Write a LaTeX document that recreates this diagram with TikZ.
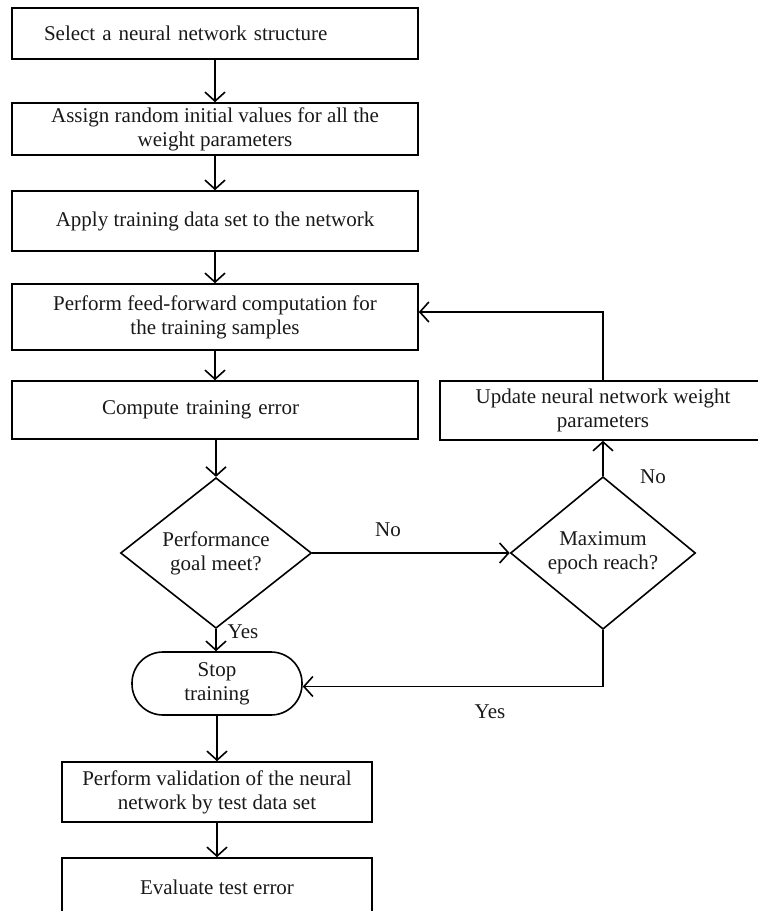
\documentclass[tikz,border=0pt]{standalone}
\usepackage{fontspec}
\setmainfont{Liberation Serif}
\usetikzlibrary{arrows.meta,shapes.geometric}
\begin{document}
\begin{tikzpicture}[x=1pt,y=-1pt,
  every node/.style={font=\fontsize{21}{24}\selectfont, text=black!90},
  proc/.style={draw=black, line width=1.6pt, rectangle, inner sep=0pt, align=center},
  dec/.style={draw=black, line width=1.6pt, diamond, inner sep=0pt, align=center},
  term/.style={draw=black, line width=1.6pt, rectangle, rounded corners=31pt, inner sep=0pt, align=center},
  flow/.style={draw=black, line width=1.6pt, -{Straight Barb[length=9pt,width=20pt,line width=1.6pt]}},
  lbl/.style={inner sep=0pt}
]
\useasboundingbox (0,0) rectangle (758,911);
\begin{scope}
\clip (0,0) rectangle (758,911);

% main column of steps
\node[proc, minimum width=406pt, minimum height=51pt, text width=342pt, align=left]
  (select) at (215,33.5) {Select a neural network structure};
\node[proc, minimum width=406pt, minimum height=52pt]
  (assign) at (215,129) {Assign random initial values for all the\\weight parameters};
\node[proc, minimum width=406pt, minimum height=60pt]
  (apply) at (215,221) {Apply training data set to the network};
\node[proc, minimum width=406pt, minimum height=66pt]
  (feed) at (215,317) {Perform feed-forward computation for\\the training samples};
\node[proc, minimum width=406pt, minimum height=58pt, text width=226pt, inner xsep=90pt, align=left]
  (compute) at (215,410) {Compute training error};

% decisions
\node[dec, minimum width=191pt, minimum height=133pt]
  (perf) at (216,553) {Performance\\goal meet?};
\node[dec, minimum width=185pt, minimum height=137pt]
  (maxep) at (603,553) {Maximum\\epoch reach?};

% weight update (runs past the right edge)
\node[proc, minimum width=326pt, minimum height=59pt]
  (update) at (603,410.5) {Update neural network weight\\parameters};

% end of training and testing
\node[term, minimum width=170pt, minimum height=63pt]
  (stop) at (217,683.5) {Stop\\training};
\node[proc, minimum width=310pt, minimum height=60pt]
  (valid) at (217,792) {Perform validation of the neural\\network by test data set};
\node[proc, minimum width=310pt, minimum height=58pt]
  (evalerr) at (217,887) {Evaluate test error};

% branch labels
\node[lbl] (no1) at (388,530) {No};
\node[lbl] (no2) at (653,477) {No};
\node[lbl] (yes1) at (243,632) {Yes};
\node[lbl] (yes2) at (490,712) {Yes};

% connectors
\draw[flow] (select.south) -- (select.south |- assign.north);
\draw[flow] (assign.south) -- (assign.south |- apply.north);
\draw[flow] (apply.south) -- (apply.south |- feed.north);
\draw[flow] (feed.south) -- (feed.south |- compute.north);
\draw[flow] (perf.north |- compute.south) -- (perf.north);
\draw[flow] (perf.east) -- (maxep.west);
\draw[flow] (maxep.north) -- (update.south);
\draw[flow] (update.north) |- ([yshift=5pt]feed.east);
\draw[flow] (maxep.south) |- ([yshift=-3pt]stop.east);
\draw[flow] (perf.south) -- (perf.south |- stop.north);
\draw[flow] (stop.south) -- (stop.south |- valid.north);
\draw[flow] (valid.south) -- (valid.south |- evalerr.north);
\end{scope}
\end{tikzpicture}
\end{document}
